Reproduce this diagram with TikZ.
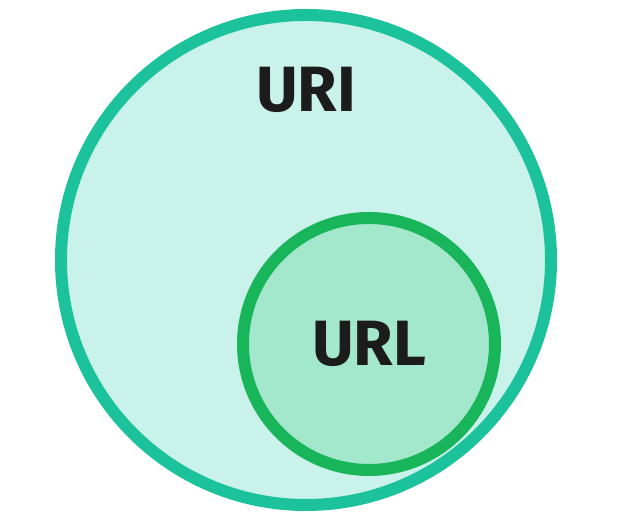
\documentclass[tikz,border=0pt]{standalone}
\usepackage{fontspec}
\setmainfont{Fira Sans}
\usepackage{xcolor}
\usepackage{tikz}
\usetikzlibrary{positioning}

\definecolor{uriline}{HTML}{1CC29B}
\definecolor{urifill}{HTML}{C9F3EA}
\definecolor{urlline}{HTML}{18B55A}
\definecolor{urlfill}{HTML}{A3E8CC}
\definecolor{labeltext}{HTML}{1C1C1C}

\tikzset{
    setcircle/.style={draw, circle, line width=12pt, inner sep=0pt},
    setlabel/.style={inner sep=0pt, text=labeltext, font=\fontsize{64}{64}\selectfont\bfseries}
}

\begin{document}
\begin{tikzpicture}[x=1pt, y=1pt]
    \useasboundingbox (0,0) rectangle (622,518);
    \node (uri) [setcircle, draw=uriline, fill=urifill, minimum size=490pt] at (306,258) {};
    \node (url) [setcircle, draw=urlline, fill=urlfill, minimum size=252pt, setlabel] at (369,174) {URL};
    
    \node (urilabel) [setlabel] at (306,428) {URI};
\end{tikzpicture}
\end{document}
